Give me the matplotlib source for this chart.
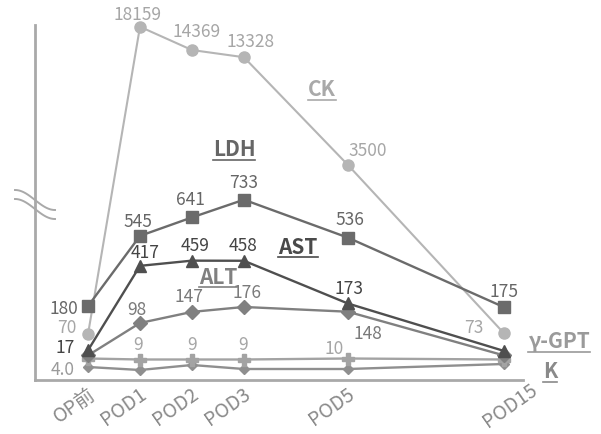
import numpy as np
import matplotlib
matplotlib.use('Agg')
import matplotlib.pyplot as plt
from matplotlib.lines import Line2D
from matplotlib.transforms import ScaledTranslation

plt.rcParams['font.family'] = ['Noto Sans CJK JP', 'DejaVu Sans']

# ---------------- data ----------------
categories = ['OP前', 'POD1', 'POD2', 'POD3', 'POD5', 'POD15']
x_slots = [0, 1, 2, 3, 5, 8]          # horizontal slot of each time point

ck  = [70, 18159, 14369, 13328, 3500, 73]
ldh = [180, 545, 641, 733, 536, 175]
ast = [17, 417, 459, 458, 173, 16]
alt = [30, 98, 147, 176, 148, 30]
ggt = [10, 9, 9, 9, 10, 9]
kal = [4.0, 3.7, 4.2, 3.8, 3.8, 4.3]

# which points carry a printed value
ck_show  = [1, 1, 1, 1, 1, 1]
ldh_show = [1, 1, 1, 1, 1, 1]
ast_show = [1, 1, 1, 1, 1, 0]
alt_show = [0, 1, 1, 1, 1, 0]
ggt_show = [0, 1, 1, 1, 1, 0]
k_show   = [1, 0, 0, 0, 0, 0]

series_names = ['CK', 'LDH', 'AST', 'ALT', 'γ-GPT', 'K']

# ---------------- figure ----------------
W, H = 601, 434
fig = plt.figure(figsize=(W / 100, H / 100), dpi=100)
ax = fig.add_axes([35 / W, 1 - 380 / H, 488 / W, 355 / H])
ax.set_xlim(-1.02, 8.37)
ax.set_ylim(0, 1)
ax.set_yticks([])
for s in ['top', 'right']:
    ax.spines[s].set_visible(False)
for s in ['left', 'bottom']:
    ax.spines[s].set_color('#a9a9a9')
    ax.spines[s].set_linewidth(2)
ax.set_xticks(x_slots)
ax.set_xticklabels(categories, rotation=35, ha='right', va='center',
                   rotation_mode='anchor', fontsize=14, color='#8a8a8a')
ax.tick_params(axis='x', length=0, pad=9)
labs = ax.get_xticklabels()
for i, lab in enumerate(labs):
    dx, dy = (0.05, 0.0) if i < len(labs) - 1 else (0.32, 0.04)
    lab.set_transform(lab.get_transform() +
                      ScaledTranslation(dx, dy, fig.dpi_scale_trans))


def spow(p):
    return (lambda v: np.sign(v) * np.abs(v) ** p,
            lambda u: np.sign(u) * np.abs(u) ** (1 / p))


def series_axis(scale, lim):
    a = ax.twinx()
    a.set_axis_off()
    if scale == 'log':
        a.set_yscale('log')
    elif scale != 'linear':
        a.set_yscale('function', functions=spow(scale))
    a.set_ylim(*lim)
    return a


def fmt(v):
    return f'{v:.1f}' if isinstance(v, float) else str(v)


def draw(a, vals, show, offs, color, tcolor, marker, ms, lw=1.7):
    a.plot(x_slots, vals, color=color, lw=lw, marker=marker, ms=ms,
           markeredgecolor=color, markerfacecolor=color, clip_on=False)
    j = 0
    for xi, v, sh in zip(x_slots, vals, show):
        if not sh:
            continue
        dx, dy, ha = offs[j]
        j += 1
        a.annotate(fmt(v), (xi, v), xytext=(dx, dy), textcoords='offset pixels',
                   ha=ha, va='center', fontsize=12.5, color=tcolor,
                   annotation_clip=False)


# one hidden value scale per series (each marker read through its own scale)
a_ck = series_axis(0.25, (6.44, 18473))
a_k = series_axis('linear', (2.7, 38.2))
a_gg = series_axis('linear', (-11.5, 343.5))
a_alt = series_axis('log', (12.2, 5.26e6))
a_ldh = series_axis('linear', (-204, 1641))
a_ast = series_axis(0.5, (-2.63, 4479))

draw(a_ck, ck, ck_show,
     [(-12, 6, 'right'), (-2, 12, 'center'), (5, 18, 'center'), (7, 15, 'center'),
      (20, 14, 'center'), (-30, 5, 'center')],
     '#b5b5b5', '#a6a6a6', 'o', 8, lw=1.5)
draw(a_k, kal, k_show, [(-13, -3, 'right')], '#8f8f8f', '#9a9a9a', 'D', 5.5)
draw(a_gg, ggt, ggt_show,
     [(-2, 15, 'center'), (0, 15, 'center'), (-1, 14, 'center'), (-14, 10, 'center')],
     '#a3a3a3', '#a6a6a6', 'P', 8)
draw(a_alt, alt, alt_show,
     [(-3, 13, 'center'), (-3, 15, 'center'), (3, 14, 'center'), (20, -22, 'center')],
     '#808080', '#7a7a7a', 'D', 7)
draw(a_ldh, ldh, ldh_show,
     [(-10, -3, 'right'), (-2, 14, 'center'), (-2, 17, 'center'), (0, 17, 'center'),
      (2, 18, 'center'), (0, 15, 'center')],
     '#6b6b6b', '#666666', 's', 9)
draw(a_ast, ast, ast_show,
     [(-13, 2, 'right'), (5, 13, 'center'), (3, 15, 'center'), (-1, 15, 'center'),
      (1, 14, 'center')],
     '#4f4f4f', '#444444', '^', 9)

# series name labels (underlined)
name_pos = [(322, 90), (234, 150), (298, 247), (218, 277), (559, 342), (550, 372)]
name_col = ['#a9a9a9', '#666666', '#4a4a4a', '#808080', '#9a9a9a', '#8a8a8a']
name_txt = []
for nm, (px, py), c in zip(series_names, name_pos, name_col):
    t = fig.text(px / W, 1 - py / H, nm, ha='center', va='center', fontsize=15,
                 fontweight='bold', color=c)
    name_txt.append((t, c))

fig.canvas.draw()
inv = fig.transFigure.inverted()
for t, c in name_txt:
    bb = t.get_window_extent()
    (x0, y0), (x1, _) = inv.transform([(bb.x0, bb.y0 + 1), (bb.x1, bb.y0)])
    fig.add_artist(Line2D([x0, x1], [y0, y0], transform=fig.transFigure,
                          color=c, lw=1.2))

# axis break mark on the left spine
tt = np.linspace(0, 1, 40)
for y0 in (190, 199):
    xs = 15 + 40 * tt
    ys = y0 + 10 * (1 - np.cos(np.pi * tt))
    fig.add_artist(Line2D(xs / W, 1 - ys / H, transform=fig.transFigure,
                          color='#a9a9a9', lw=1.4))

fig.savefig('out.png', dpi=100, facecolor='white')
